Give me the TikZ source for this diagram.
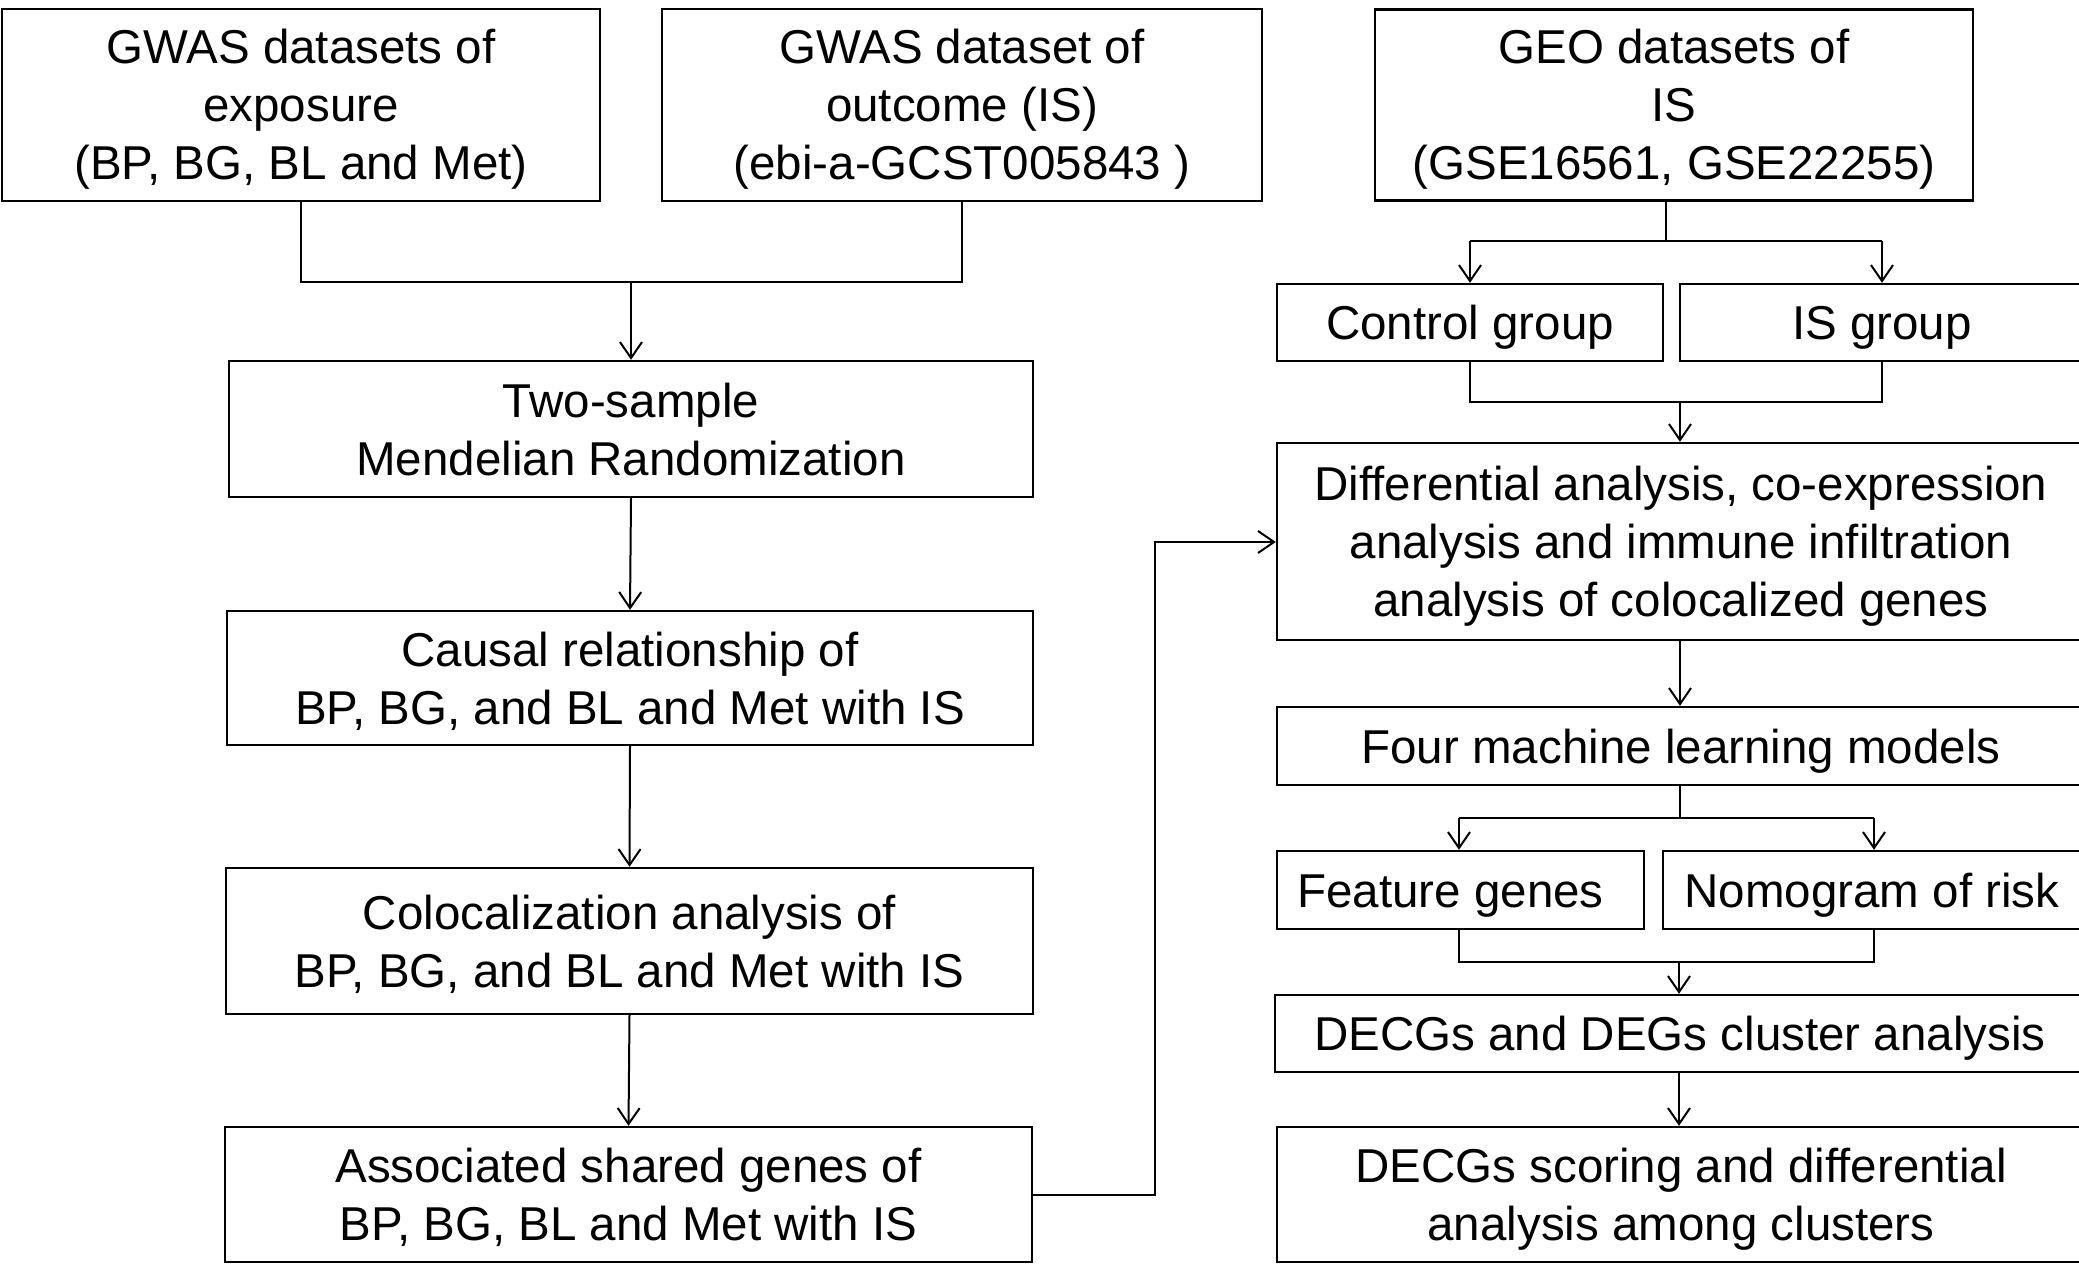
\documentclass[tikz,border=0pt]{standalone}
\usepackage{fontspec}
\setmainfont{Liberation Sans}
\usetikzlibrary{arrows.meta}
\newcommand{\mystrut}{\rule{0pt}{45pt}}
\begin{document}
\begin{tikzpicture}[x=1pt,y=-1pt,
  box/.style={draw, line width=2.4pt, inner sep=0pt, align=center,
    font=\fontsize{47.5}{58}\selectfont,
    execute at end node={\rule[-11pt]{0pt}{11pt}}},
  conn/.style={line width=2pt},
  arr/.style={line width=2pt, -{Straight Barb[length=16pt,width=22pt]}}]
\useasboundingbox (0,0) rectangle (2079,1265);
\clip (0,0) rectangle (2079,1265);
\fill[white] (0,0) rectangle (2079,1265);
% top row
\node[box, minimum width=598pt, minimum height=192pt] (b1) at (301,105) {\mystrut GWAS datasets of\\exposure\\(BP, BG, BL and Met)};
\node[box, minimum width=600pt, minimum height=192pt] (b2) at (962,105) {\mystrut GWAS dataset of\\outcome (IS)\\(ebi-a-GCST005843 )};
\node[box, minimum width=598pt, minimum height=191pt] (geo) at (1674,105) {\mystrut GEO datasets of\\IS\\(GSE16561, GSE22255)};
% left column
\node[box, minimum width=804pt, minimum height=136pt] (ts) at (631,429) {\mystrut Two-sample\\Mendelian Randomization};
\node[box, minimum width=806pt, minimum height=134pt] (causal) at (630,678) {\mystrut Causal relationship of\\BP, BG, and BL and Met with IS};
\node[box, minimum width=807pt, minimum height=146pt] (coloc) at (629.5,941) {\mystrut Colocalization analysis of\\BP, BG, and BL and Met with IS};
\node[box, minimum width=807pt, minimum height=135pt] (assoc) at (628.5,1194.5) {\mystrut Associated shared genes of\\BP, BG, BL and Met with IS};
% right column
\node[box, minimum width=386pt, minimum height=77pt] (ctrl) at (1470,322.5) {\mystrut Control group};
\node[box, minimum width=404pt, minimum height=77pt] (isg) at (1882,322.5) {\mystrut IS group};
\node[box, minimum width=808pt, minimum height=197pt] (diff) at (1681,541.5) {\mystrut Differential analysis, co-expression\\analysis and immune infiltration\\analysis of colocalized genes};
\node[box, minimum width=808pt, minimum height=78pt] (four) at (1681,746) {\mystrut Four machine learning models};
\node[box, minimum width=367pt, minimum height=78pt] (feat) at (1460.5,890) {\mystrut Feature genes\hspace{20pt}};
\node[box, minimum width=418pt, minimum height=78pt] (nomo) at (1872,890) {\mystrut Nomogram of risk};
\node[box, minimum width=810pt, minimum height=77pt] (clus) at (1680,1033.5) {\mystrut DECGs and DEGs cluster analysis};
\node[box, minimum width=808pt, minimum height=135pt] (score) at (1681,1194.5) {\mystrut DECGs scoring and differential\\analysis among clusters};
% coordinates
\coordinate (j1) at (631,282);
\coordinate (j2) at (1666,241);
\coordinate (j3) at (1680,402);
\coordinate (j4) at (1680,818);
\coordinate (j5) at (1679,962);
\coordinate (k1) at (1155,1195);
\coordinate (k2) at (1155,542);
% connectors left
\draw[conn] (b1.south) |- (j1) -| (b2.south);
\draw[arr] (j1) -- (ts.north);
\draw[arr] (ts.south) -- (causal.north);
\draw[arr] (causal.south) -- (coloc.north);
\draw[arr] (coloc.south) -- (assoc.north);
\draw[arr] (assoc.east |- k1) -- (k1) -- (k2) -- (diff.west |- k2);
% connectors right
\draw[conn] (geo.south -| j2) -- (j2);
\draw[conn] (ctrl.north |- j2) -- (isg.north |- j2);
\draw[arr] (ctrl.north |- j2) -- (ctrl.north);
\draw[arr] (isg.north |- j2) -- (isg.north);
\draw[conn] (ctrl.south) |- (j3) -| (isg.south);
\draw[arr] (j3) -- (diff.north -| j3);
\draw[arr] (diff.south -| j3) -- (four.north -| j3);
\draw[conn] (four.south -| j4) -- (j4);
\coordinate (fa) at (1459,818);
\coordinate (na) at (1874,818);
\draw[conn] (fa) -- (na);
\draw[arr] (fa) -- (feat.north -| fa);
\draw[arr] (na) -- (nomo.north -| na);
\draw[conn] (feat.south -| fa) |- (j5) -| (nomo.south -| na);
\draw[arr] (j5) -- (clus.north -| j5);
\draw[arr] (clus.south -| j5) -- (score.north -| j5);
\end{tikzpicture}
\end{document}
